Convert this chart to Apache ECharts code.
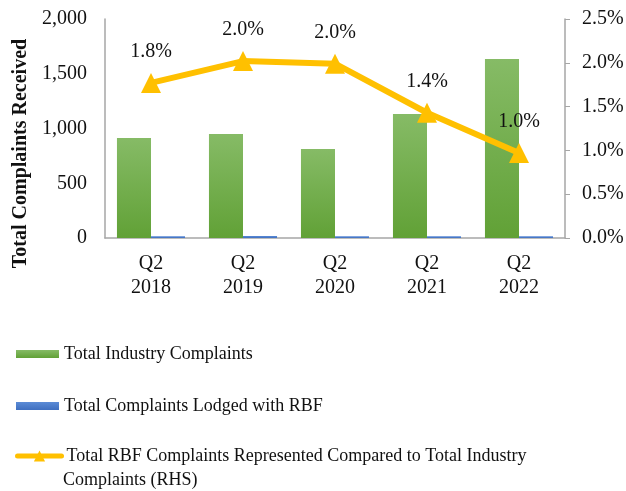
<!DOCTYPE html>
<html>
<head>
<meta charset="utf-8">
<script src="https://cdn.jsdelivr.net/npm/echarts@6/dist/echarts.min.js"></script>
<style>
  html, body { margin: 0; padding: 0; background: #fff; }
  #chart { width: 626px; height: 491px; }
</style>
</head>
<body>
<div id="chart"></div>
<script>
// data
var categories = ["Q2\n2018", "Q2\n2019", "Q2\n2020", "Q2\n2021", "Q2\n2022"];
var industryComplaints = [913, 950, 813, 1132, 1635];
var rbfComplaints = [17, 19, 16, 16, 16];
var rbfShare = [1.77, 2.02, 1.99, 1.43, 0.97]; // percent
var shareLabels = ["1.8%", "2.0%", "2.0%", "1.4%", "1.0%"];

var FONT = "Liberation Serif";
var myChart = echarts.init(document.getElementById("chart"));

var legendText = { fontFamily: FONT, fontSize: 18, color: "#111" };

var option = {
  animation: false,
  textStyle: { fontFamily: FONT, color: "#111" },
  grid: { left: 105, right: 61, top: 19, bottom: 253, outerBoundsMode: "none" },
  legend: [
    {
      left: 16, top: 345, padding: 0,
      icon: "rect", itemWidth: 43, itemHeight: 8,
      textStyle: legendText,
      data: ["Total Industry Complaints"]
    },
    {
      left: 16, top: 397, padding: 0,
      icon: "rect", itemWidth: 43, itemHeight: 8,
      textStyle: legendText,
      data: ["Total Complaints Lodged with RBF"]
    },
    {
      left: 15, top: 447, padding: 0,
      itemWidth: 44, itemHeight: 14,
      lineStyle: { width: 5, cap: "round" },
      textStyle: legendText,
      formatter: function () { return "Total RBF Complaints Represented Compared to Total Industry"; },
      data: ["Total RBF Complaints Represented Compared to Total Industry Complaints (RHS)"]
    }
  ],
  graphic: [
    {
      type: "text", left: 63, top: 471,
      style: { text: "Complaints (RHS)", font: "18px " + FONT, fill: "#111" }
    }
  ],
  xAxis: {
    type: "category",
    data: categories,
    axisLine: { lineStyle: { color: "#a6a6a6", width: 1.5 } },
    axisTick: { show: false },
    axisLabel: { fontFamily: FONT, fontSize: 20, color: "#111", lineHeight: 24, margin: 14 }
  },
  yAxis: [
    {
      type: "value", min: 0, max: 2000, interval: 500,
      name: "Total Complaints Received",
      nameLocation: "middle", nameGap: 67,
      nameTextStyle: { fontFamily: FONT, fontSize: 20, fontWeight: "bold", color: "#111", padding: [0, 50, 0, 0] },
      axisLine: { show: true, lineStyle: { color: "#a6a6a6", width: 1.5 } },
      axisTick: { show: false },
      splitLine: { show: false },
      axisLabel: {
        fontFamily: FONT, fontSize: 20, color: "#111", margin: 18,
        formatter: function (v) { return v.toLocaleString("en-US"); }
      }
    },
    {
      type: "value", min: 0, max: 2.5, interval: 0.5,
      position: "right",
      axisLine: { show: true, lineStyle: { color: "#a6a6a6", width: 1.5 } },
      axisTick: { show: true, length: 5, lineStyle: { color: "#a6a6a6" } },
      splitLine: { show: false },
      axisLabel: {
        fontFamily: FONT, fontSize: 20, color: "#111", margin: 17,
        formatter: function (v) { return v.toFixed(1) + "%"; }
      }
    }
  ],
  series: [
    {
      name: "Total Industry Complaints",
      type: "bar",
      data: industryComplaints,
      barGap: "0%",
      barCategoryGap: "26%",
      itemStyle: {
        color: new echarts.graphic.LinearGradient(0, 0, 0, 1, [
          { offset: 0, color: "#86bb66" },
          { offset: 1, color: "#61a136" }
        ])
      }
    },
    {
      name: "Total Complaints Lodged with RBF",
      type: "bar",
      data: rbfComplaints,
      itemStyle: {
        color: new echarts.graphic.LinearGradient(0, 0, 0, 1, [
          { offset: 0, color: "#5b8bd6" },
          { offset: 1, color: "#3f6fc0" }
        ])
      }
    },
    {
      name: "Total RBF Complaints Represented Compared to Total Industry Complaints (RHS)",
      type: "line",
      yAxisIndex: 1,
      data: rbfShare,
      symbol: "triangle",
      symbolSize: 20,
      lineStyle: { color: "#ffc000", width: 6 },
      itemStyle: { color: "#ffc000" },
      label: {
        show: true, position: "top", distance: 11,
        fontFamily: FONT, fontSize: 20, color: "#111",
        formatter: function (p) { return shareLabels[p.dataIndex]; }
      }
    }
  ]
};

myChart.setOption(option);
window.onresize = myChart.resize;
</script>
</body>
</html>
